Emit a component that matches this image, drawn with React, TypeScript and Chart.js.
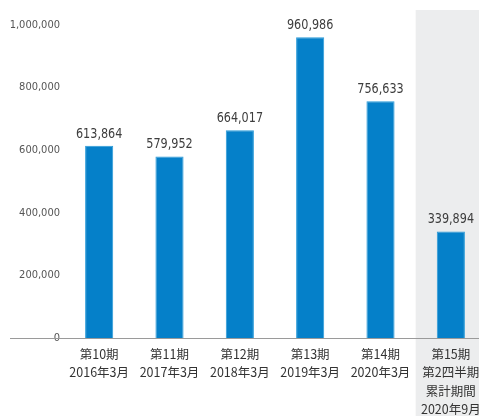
import React, { useEffect, useRef } from "react";
import { Chart, registerables } from "chart.js";

Chart.register(...registerables);

const categories: string[][] = [
  ["第10期", "2016年3月"],
  ["第11期", "2017年3月"],
  ["第12期", "2018年3月"],
  ["第13期", "2019年3月"],
  ["第14期", "2020年3月"],
  ["第15期", "第2四半期", "累計期間", "2020年9月"],
];
const values: number[] = [613864, 579952, 664017, 960986, 756633, 339894];
const yTicks: number[] = [0, 200000, 400000, 600000, 800000, 1000000];
const highlightIndex = 5;

const fmt = (v: number) => v.toLocaleString("en-US");
const NARROW = '"DejaVu Sans Condensed", sans-serif';

const bandPlugin = {
  id: "band",
  beforeDatasetsDraw(chart: any) {
    const { ctx, scales } = chart;
    const x = scales.x;
    const w = x.getPixelForValue(1) - x.getPixelForValue(0);
    const c = x.getPixelForValue(highlightIndex);
    ctx.save();
    ctx.fillStyle = "#ecedee";
    ctx.fillRect(c - w / 2, 10, w, chart.height - 10);
    ctx.restore();
  },
  afterDatasetsDraw(chart: any) {
    const { ctx, scales } = chart;
    const y0 = scales.y.getPixelForValue(0);
    ctx.save();
    ctx.strokeStyle = "#9a9a9a";
    ctx.lineWidth = 1;
    ctx.beginPath();
    ctx.moveTo(10, Math.round(y0) + 0.5);
    ctx.lineTo(chart.width, Math.round(y0) + 0.5);
    ctx.stroke();
    // value labels (tall, narrow)
    ctx.fillStyle = "#3d3d3d";
    ctx.font = "14.5px " + NARROW;
    ctx.textAlign = "center";
    ctx.textBaseline = "middle";
    const meta = chart.getDatasetMeta(0);
    meta.data.forEach((bar: any, i: number) => {
      ctx.save();
      ctx.translate(bar.x, bar.y - 12);
      ctx.scale(0.86, 1);
      ctx.fillText(fmt(values[i]), 0, 0);
      ctx.restore();
    });
    // category labels
    ctx.fillStyle = "#333";
    ctx.font = '12.5px "Noto Sans CJK JP", sans-serif';
    categories.forEach((lines, i) => {
      const cx = scales.x.getPixelForValue(i);
      lines.forEach((t, j) => {
        ctx.fillText(t, cx, y0 + 16 + j * 18.5);
      });
    });
    ctx.restore();
  },
};

export default function App() {
  const ref = useRef<HTMLCanvasElement | null>(null);
  useEffect(() => {
    document.body.style.margin = "0";
    const chart = new Chart(ref.current as HTMLCanvasElement, {
      type: "bar",
      data: {
        labels: categories.map((c) => c.join(" ")),
        datasets: [
          {
            data: values,
            backgroundColor: "#0580c9",
            borderColor: "#2a9ad8",
            borderWidth: 1,
            barPercentage: 0.4,
            categoryPercentage: 1,
          },
        ],
      },
      options: {
        animation: false,
        responsive: false,
        devicePixelRatio: 1,
        layout: { padding: { top: 25, right: 0, left: 0, bottom: 78 } },
        plugins: { legend: { display: false }, tooltip: { enabled: false } },
        scales: {
          x: {
            offset: true,
            grid: { display: false, drawTicks: false },
            border: { display: false },
            ticks: { display: false },
          },
          y: {
            min: 0,
            max: 1000000,
            afterFit: (s: any) => {
              s.width = 64;
            },
            afterBuildTicks: (s: any) => {
              s.ticks = yTicks.map((v) => ({ value: v }));
            },
            grid: { display: false, drawTicks: false },
            border: { display: false },
            ticks: {
              color: "#555",
              padding: 4,
              callback: (v: any) => fmt(Number(v)),
              font: { family: NARROW, size: 11 },
            },
          },
        },
      },
      plugins: [bandPlugin],
    });
    return () => chart.destroy();
  }, []);
  return (
    <div style={{ width: 479, height: 416, overflow: "hidden", background: "#fff" }}>
      <canvas ref={ref} width={486} height={416} style={{ display: "block" }} />
    </div>
  );
}
